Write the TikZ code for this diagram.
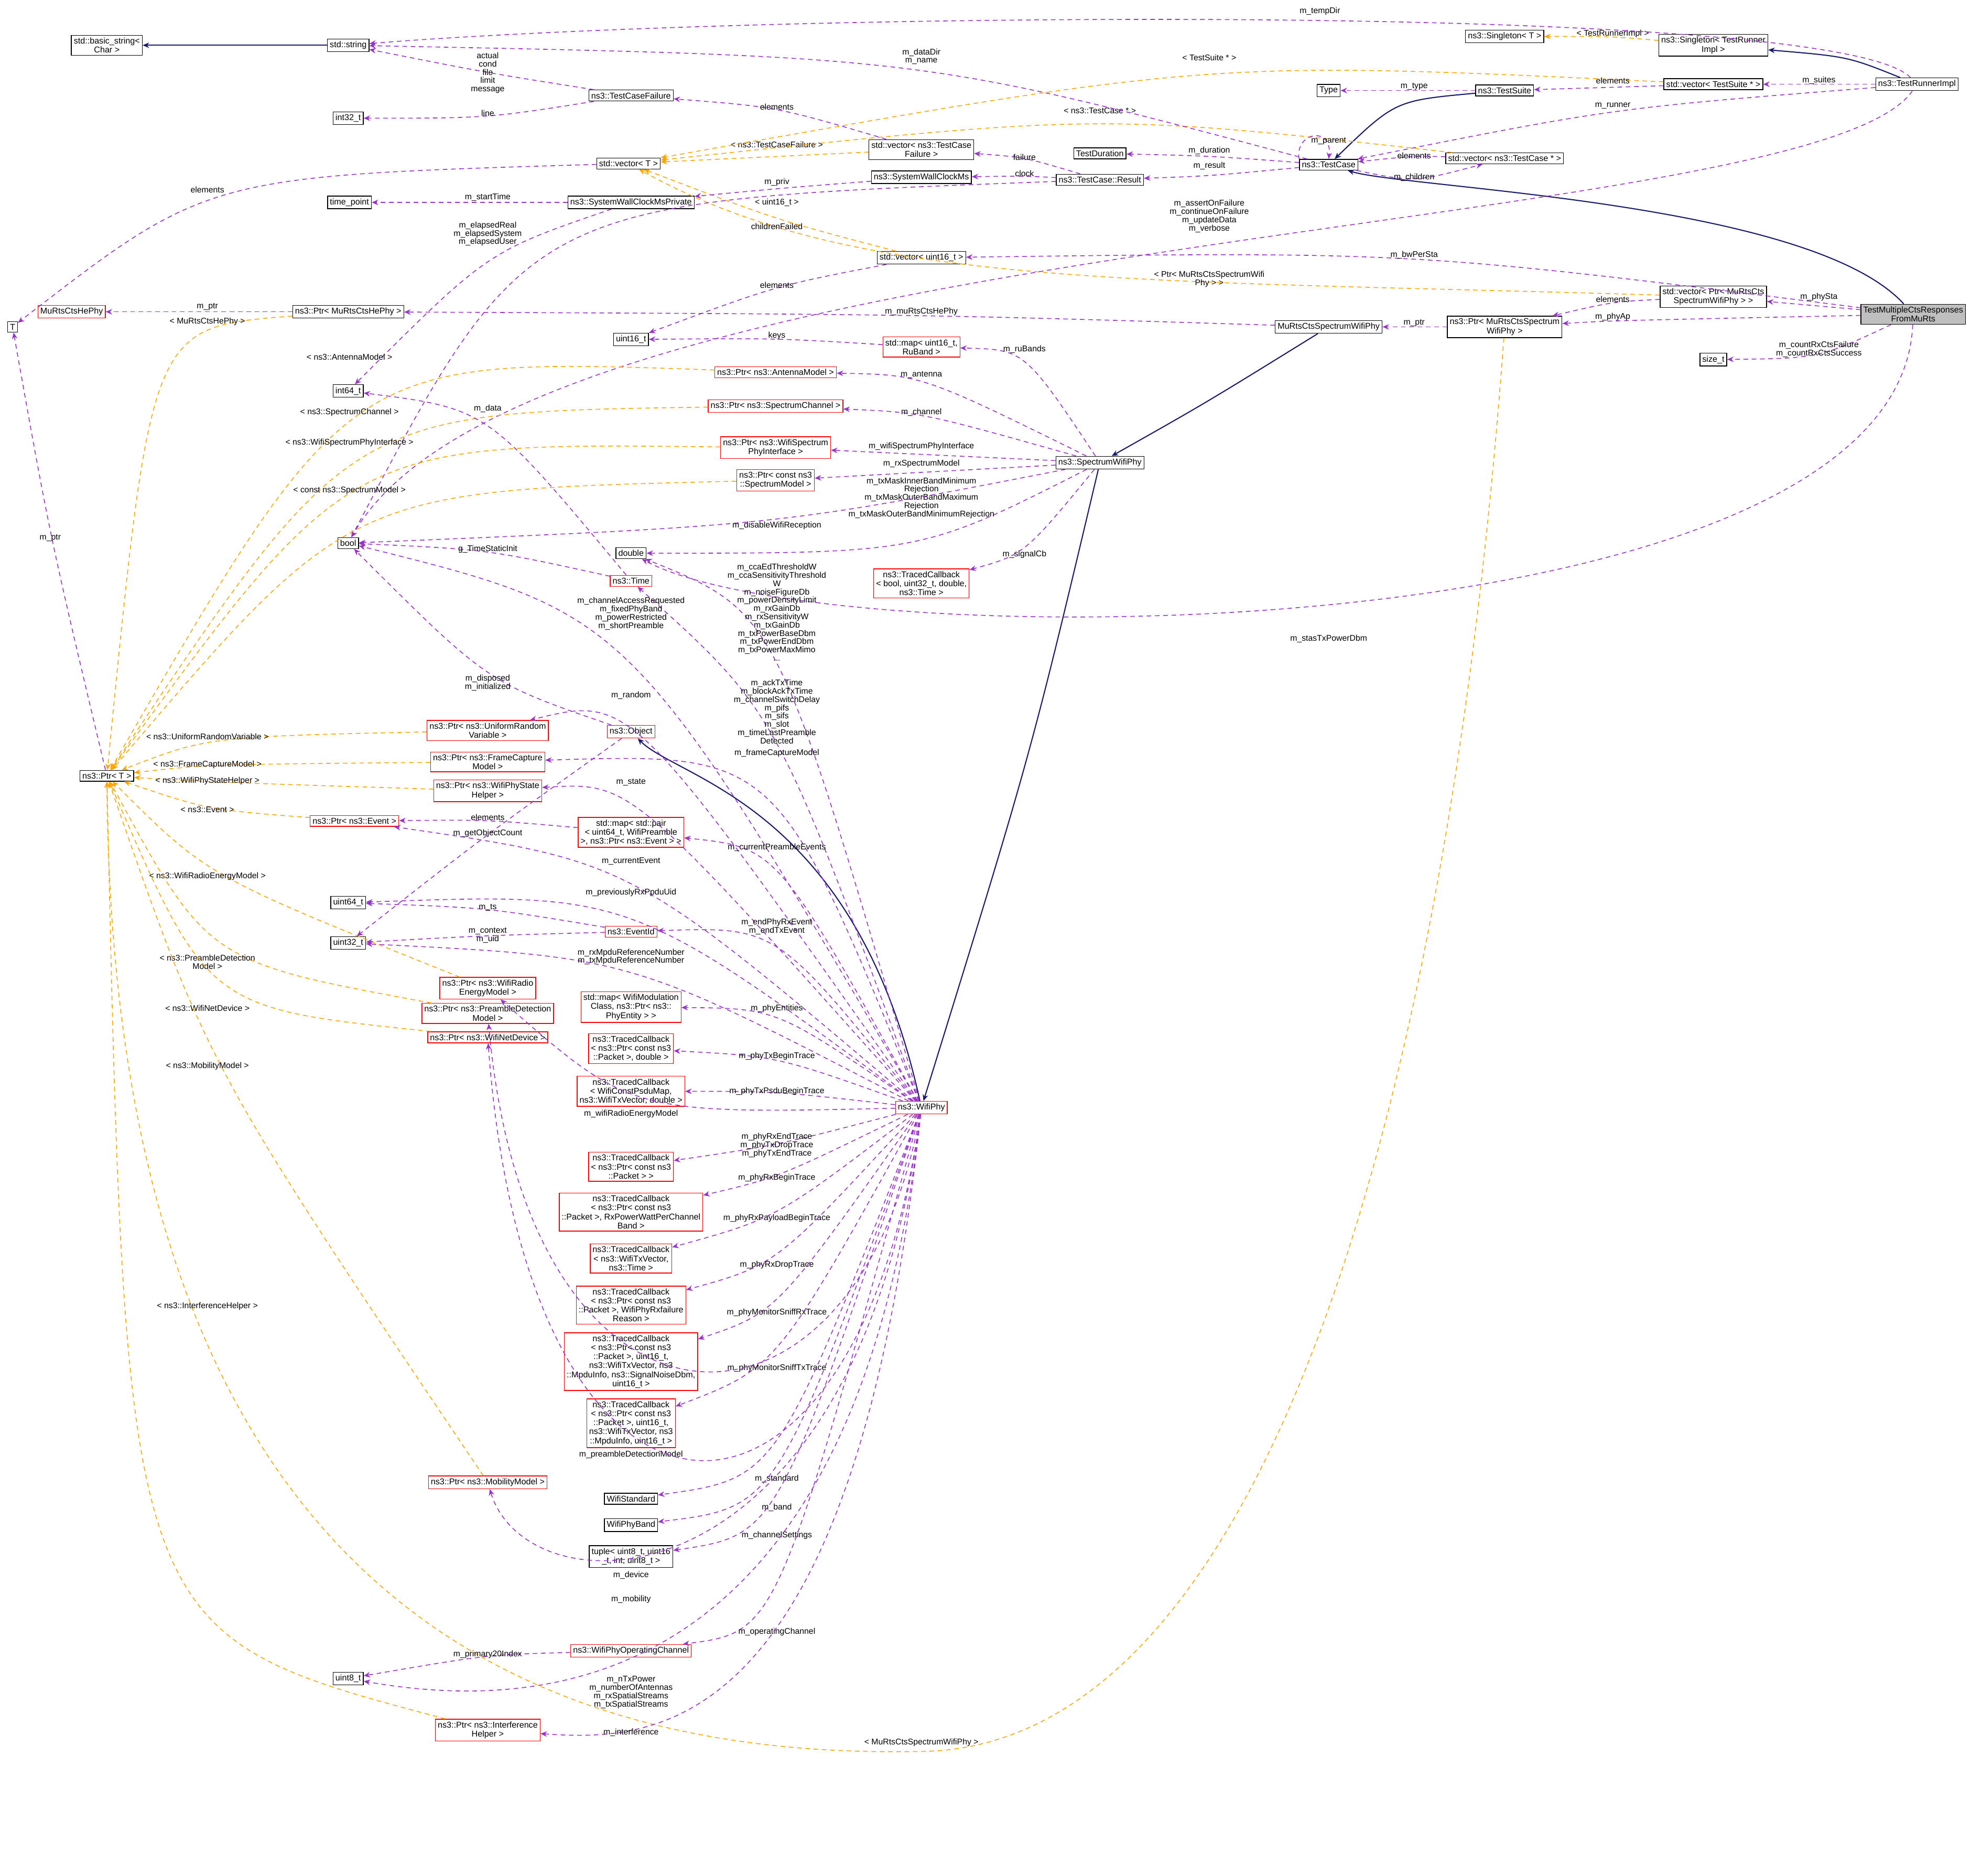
\documentclass[tikz,border=0pt]{standalone}
\usepackage{fontspec}
\setmainfont{Liberation Sans}
\usetikzlibrary{arrows.meta}
\definecolor{memcol}{HTML}{9A32CD}
\definecolor{tplcol}{HTML}{FFA500}
\definecolor{inhcol}{HTML}{191970}
\tikzset{
  cls/.style={draw=black,fill=white,inner sep=1.3pt,align=center,font=\fontsize{4.6}{4.9}\selectfont},
  rcls/.style={cls,draw=red},
  mem/.style={draw=memcol,dash pattern=on 2.5pt off 2pt,line width=.45pt,-{Stealth[length=3.5pt,width=3pt]}},
  tpl/.style={mem,draw=tplcol},
  inh/.style={draw=inhcol,line width=.6pt,-{Stealth[length=3.5pt,width=3pt,fill=inhcol]}},
  lbl/.style={align=center,inner sep=.5pt,font=\fontsize{4.5}{4.5}\selectfont}
}
\begin{document}
\begin{tikzpicture}[x=.024cm,y=-.024cm]
    \useasboundingbox (0,0) rectangle (1568,1492);

    %% left column
    \node[cls] (basicstr) at (85,36) {std::basic\_string\textless\\Char \textgreater};
    \node[cls] (stdstr) at (277,36) {std::string};
    \node[cls] (int32) at (277,94) {int32\_t};
    \node[cls] (timept) at (278,161) {time\_point};
    \node[cls] (tT) at (10,260) {T};
    \node[rcls] (murtshe) at (57,248) {MuRtsCtsHePhy};
    \node[cls] (ptrhe) at (277,248) {ns3::Ptr\textless{} MuRtsCtsHePhy \textgreater};
    \node[cls] (int64) at (277,311) {int64\_t};
    \node[cls] (bool) at (277,432) {bool};
    \node[cls] (ptrT) at (85,617) {ns3::Ptr\textless{} T \textgreater};
    \node[cls] (uint64) at (277,718) {uint64\_t};
    \node[cls] (uint32) at (277,750) {uint32\_t};
    \node[cls] (uint8) at (277,1335) {uint8\_t};

    %% middle column
    \node[cls] (tcfail) at (502,76) {ns3::TestCaseFailure};
    \node[cls] (vecT) at (500,130) {std::vector\textless{} T \textgreater};
    \node[cls] (swcmp) at (502,161) {ns3::SystemWallClockMsPrivate};
    \node[cls] (uint16) at (502,270) {uint16\_t};
    \node[cls] (double) at (502,440) {double};
    \node[rcls] (time) at (502,462) {ns3::Time};
    \node[rcls] (object) at (502,582) {ns3::Object};
    \node[rcls] (mappair) at (502,662) {std::map\textless{} std::pair\\\textless{} uint64\_t, WifiPreamble\\ \textgreater, ns3::Ptr\textless{} ns3::Event \textgreater{} \textgreater};
    \node[rcls] (eventid) at (502,741) {ns3::EventId};
    \node[rcls] (mapent) at (502,801) {std::map\textless{} WifiModulation\\Class, ns3::Ptr\textless{} ns3::\\PhyEntity \textgreater{} \textgreater};
    \node[rcls] (tctx) at (502,834) {ns3::TracedCallback\\\textless{} ns3::Ptr\textless{} const ns3\\::Packet \textgreater, double \textgreater};
    \node[rcls] (tcpsdu) at (502,868) {ns3::TracedCallback\\\textless{} WifiConstPsduMap,\\ ns3::WifiTxVector, double \textgreater};
    \node[rcls] (tcpkt) at (502,928) {ns3::TracedCallback\\\textless{} ns3::Ptr\textless{} const ns3\\::Packet \textgreater{} \textgreater};
    \node[rcls] (tcrxb) at (502,964) {ns3::TracedCallback\\\textless{} ns3::Ptr\textless{} const ns3\\::Packet \textgreater, RxPowerWattPerChannel\\Band \textgreater};
    \node[rcls] (tcvec) at (502,1001) {ns3::TracedCallback\\\textless{} ns3::WifiTxVector,\\ ns3::Time \textgreater};
    \node[rcls] (tcdrop) at (502,1038) {ns3::TracedCallback\\\textless{} ns3::Ptr\textless{} const ns3\\::Packet \textgreater, WifiPhyRxfailure\\Reason \textgreater};
    \node[rcls] (tcsrx) at (502,1083) {ns3::TracedCallback\\\textless{} ns3::Ptr\textless{} const ns3\\::Packet \textgreater, uint16\_t,\\ ns3::WifiTxVector, ns3\\::MpduInfo, ns3::SignalNoiseDbm,\\ uint16\_t \textgreater};
    \node[rcls] (tcstx) at (502,1132) {ns3::TracedCallback\\\textless{} ns3::Ptr\textless{} const ns3\\::Packet \textgreater, uint16\_t,\\ ns3::WifiTxVector, ns3\\::MpduInfo, uint16\_t \textgreater};
    \node[cls] (wstd) at (502,1192) {WifiStandard};
    \node[cls] (wband) at (502,1213) {WifiPhyBand};
    \node[cls] (tuple) at (502,1238) {tuple\textless{} uint8\_t, uint16\\\_t, int, uint8\_t \textgreater};
    \node[rcls] (opchan) at (502,1313) {ns3::WifiPhyOperatingChannel};

    %% Ptr column
    \node[rcls] (ptrant) at (617,296) {ns3::Ptr\textless{} ns3::AntennaModel \textgreater};
    \node[rcls] (ptrchan) at (617,323) {ns3::Ptr\textless{} ns3::SpectrumChannel \textgreater};
    \node[rcls] (ptrwspi) at (617,356) {ns3::Ptr\textless{} ns3::WifiSpectrum\\PhyInterface \textgreater};
    \node[rcls] (ptrsm) at (617,382) {ns3::Ptr\textless{} const ns3\\::SpectrumModel \textgreater};
    \node[rcls] (ptrurv) at (388,581) {ns3::Ptr\textless{} ns3::UniformRandom\\Variable \textgreater};
    \node[rcls] (ptrfcm) at (388,606) {ns3::Ptr\textless{} ns3::FrameCapture\\Model \textgreater};
    \node[rcls] (ptrpsh) at (388,629) {ns3::Ptr\textless{} ns3::WifiPhyState\\Helper \textgreater};
    \node[rcls] (ptrev) at (282,653) {ns3::Ptr\textless{} ns3::Event \textgreater};
    \node[rcls] (ptrwre) at (388,786) {ns3::Ptr\textless{} ns3::WifiRadio\\EnergyModel \textgreater};
    \node[rcls] (ptrpdm) at (388,806) {ns3::Ptr\textless{} ns3::PreambleDetection\\Model \textgreater};
    \node[rcls] (ptrdev) at (388,825) {ns3::Ptr\textless{} ns3::WifiNetDevice \textgreater};
    \node[rcls] (ptrmob) at (388,1179) {ns3::Ptr\textless{} ns3::MobilityModel \textgreater};
    \node[rcls] (ptrih) at (388,1376) {ns3::Ptr\textless{} ns3::Interference\\Helper \textgreater};

    %% right part
    \node[cls] (veccf) at (733,119) {std::vector\textless{} ns3::TestCase\\Failure \textgreater};
    \node[cls] (swcm) at (733,141) {ns3::SystemWallClockMs};
    \node[cls] (vecu16) at (733,205) {std::vector\textless{} uint16\_t \textgreater};
    \node[rcls] (mapru) at (733,276) {std::map\textless{} uint16\_t,\\ RuBand \textgreater};
    \node[rcls] (tcsig) at (733,464) {ns3::TracedCallback\\\textless{} bool, uint32\_t, double,\\ ns3::Time \textgreater};
    \node[rcls] (wifiphy) at (733,881) {ns3::WifiPhy};
    \node[cls] (tdur) at (875,122) {TestDuration};
    \node[cls] (result) at (875,143) {ns3::TestCase::Result};
    \node[cls] (specphy) at (875,368) {ns3::SpectrumWifiPhy};
    \node[cls] (type) at (1057,72) {Type};
    \node[cls] (testcase) at (1057,131) {ns3::TestCase};
    \node[cls] (murtsphy) at (1057,260) {MuRtsCtsSpectrumWifiPhy};
    \node[cls] (singT) at (1197,29) {ns3::Singleton\textless{} T \textgreater};
    \node[cls] (testsuite) at (1197,72) {ns3::TestSuite};
    \node[cls] (vectc) at (1197,126) {std::vector\textless{} ns3::TestCase * \textgreater};
    \node[cls] (ptrmuphy) at (1197,260) {ns3::Ptr\textless{} MuRtsCtsSpectrum\\WifiPhy \textgreater};
    \node[cls] (singtri) at (1363,36) {ns3::Singleton\textless{} TestRunner\\Impl \textgreater};
    \node[cls] (vects) at (1363,67) {std::vector\textless{} TestSuite * \textgreater};
    \node[cls] (vecmu) at (1363,236) {std::vector\textless{} Ptr\textless{} MuRtsCts\\SpectrumWifiPhy \textgreater{} \textgreater};
    \node[cls] (sizet) at (1363,286) {size\_t};
    \node[cls] (runner) at (1525,67) {ns3::TestRunnerImpl};
    \node[cls,fill=black!25] (test) at (1522,250) {TestMultipleCtsResponses\\FromMuRts};
    \coordinate (lowturn) at (733,1393);

    %% inheritance
    \draw[inh] (stdstr) -- (basicstr);
    \draw[inh] (testsuite) .. controls (1110,80) .. (testcase);
    \draw[inh] (runner) .. controls (1470,45) .. (singtri);
    \draw[inh] (test) .. controls (1440,160) and (1120,150) .. (testcase);
    \draw[inh] (murtsphy) .. controls (960,320) .. (specphy);
    \draw[inh] (specphy) .. controls (820,600) .. (wifiphy);
    \draw[inh] (wifiphy) .. controls (680,640) and (540,620) .. (object);

    %% test framework members
    \draw[mem] (tcfail) .. controls (388,58) .. (stdstr) node[lbl] at (388,58) {actual\\cond\\file\\limit\\message};
    \draw[mem] (tcfail) .. controls (388,94) .. (int32) node[lbl] at (388,90) {line};
    \draw[mem] (veccf) .. controls (618,85) .. (tcfail) node[lbl] at (618,85) {elements};
    \draw[tpl] (veccf) -- (vecT) node[lbl] at (618,115) {\textless{} ns3::TestCaseFailure \textgreater};
    \draw[tpl] (vectc) .. controls (875,90) .. (vecT) node[lbl] at (875,88) {\textless{} ns3::TestCase * \textgreater};
    \draw[tpl] (vects) .. controls (962,48) .. (vecT) node[lbl] at (962,46) {\textless{} TestSuite * \textgreater};
    \draw[tpl] (vecu16) .. controls (618,175) .. (vecT) node[lbl] at (618,161) {\textless{} uint16\_t \textgreater};
    \draw[tpl] (vecmu) .. controls (900,222) and (680,230) .. (vecT) node[lbl] at (962,222) {\textless{} Ptr\textless{} MuRtsCtsSpectrumWifi\\Phy \textgreater{} \textgreater};
    \draw[mem] (vecT) .. controls (165,140) .. (tT) node[lbl] at (165,151) {elements};
    \draw[mem] (swcmp) -- (timept) node[lbl] at (388,157) {m\_startTime};
    \draw[mem] (swcmp) .. controls (388,200) .. (int64) node[lbl] at (388,186) {m\_elapsedReal\\m\_elapsedSystem\\m\_elapsedUser};
    \draw[mem] (swcm) .. controls (618,150) .. (swcmp) node[lbl] at (618,145) {m\_priv};
    \draw[mem] (result) .. controls (815,140) .. (swcm) node[lbl] at (815,138) {clock};
    \draw[mem] (result) .. controls (815,125) .. (veccf) node[lbl] at (815,125) {failure};
    \draw[mem] (result) .. controls (420,160) .. (bool) node[lbl] at (618,180) {childrenFailed};
    \draw[mem] (testcase) .. controls (962,140) .. (result) node[lbl] at (962,132) {m\_result};
    \draw[mem] (testcase) .. controls (962,124) .. (tdur) node[lbl] at (962,120) {m\_duration};
    \draw[mem] (testcase.north west) .. controls (1030,105) and (1060,100) .. (testcase.north) node[lbl] at (1057,112) {m\_parent};
    \draw[mem] (testcase) .. controls (733,45) .. (stdstr) node[lbl] at (733,45) {m\_dataDir\\m\_name};
    \draw[mem] (testcase) .. controls (1125,145) .. (vectc) node[lbl] at (1125,141) {m\_children};
    \draw[mem] (vectc) .. controls (1125,124) .. (testcase) node[lbl] at (1125,124) {elements};
    \draw[mem] (testsuite) -- (type) node[lbl] at (1125,69) {m\_type};
    \draw[mem] (vects) -- (testsuite) node[lbl] at (1283,64) {elements};
    \draw[tpl] (singtri) .. controls (1283,29) .. (singT) node[lbl] at (1283,27) {\textless{} TestRunnerImpl \textgreater};
    \draw[mem] (runner) -- (vects) node[lbl] at (1447,64) {m\_suites};
    \draw[mem] (runner) .. controls (1283,86) .. (testcase) node[lbl] at (1283,84) {m\_runner};
    \draw[mem] (runner) .. controls (1460,0) and (600,10) .. (stdstr) node[lbl] at (1050,9) {m\_tempDir};
    \draw[mem] (runner) .. controls (1440,190) and (420,180) .. (bool) node[lbl] at (962,172) {m\_assertOnFailure\\m\_continueOnFailure\\m\_updateData\\m\_verbose};

    %% test members
    \draw[mem] (test) .. controls (1125,200) .. (vecu16) node[lbl] at (1125,203) {m\_bwPerSta};
    \draw[mem] (test) -- (vecmu) node[lbl] at (1447,236) {m\_phySta};
    \draw[mem] (test) .. controls (1283,255) .. (ptrmuphy) node[lbl] at (1283,252) {m\_phyAp};
    \draw[mem] (test) .. controls (1447,285) .. (sizet) node[lbl] at (1447,278) {m\_countRxCtsFailure\\m\_countRxCtsSuccess};
    \draw[mem] (test) .. controls (1510,520) and (660,525) .. (double) node[lbl] at (1057,508) {m\_stasTxPowerDbm};
    \draw[mem] (vecmu) .. controls (1283,240) .. (ptrmuphy) node[lbl] at (1283,238) {elements};
    \draw[mem] (ptrmuphy) -- (murtsphy) node[lbl] at (1125,257) {m\_ptr};
    \draw[tpl] (ptrmuphy) .. controls (1150,900) and (1000,1390) .. (lowturn) .. controls (400,1400) and (90,1250) .. (ptrT) node[lbl] at (733,1386) {\textless{} MuRtsCtsSpectrumWifiPhy \textgreater};
    \draw[mem] (murtsphy) .. controls (733,250) .. (ptrhe) node[lbl] at (733,248) {m\_muRtsCtsHePhy};
    \draw[mem] (ptrhe) -- (murtshe) node[lbl] at (165,244) {m\_ptr};
    \draw[tpl] (ptrhe) .. controls (120,260) .. (ptrT) node[lbl] at (165,256) {\textless{} MuRtsCtsHePhy \textgreater};

    %% spectrum phy members
    \draw[mem] (specphy) .. controls (815,278) .. (mapru) node[lbl] at (815,278) {m\_ruBands};
    \draw[mem] (mapru) .. controls (618,269) .. (uint16) node[lbl] at (618,267) {keys};
    \draw[mem] (vecu16) .. controls (618,227) .. (uint16) node[lbl] at (618,227) {elements};
    \draw[mem] (specphy) .. controls (733,298) .. (ptrant) node[lbl] at (733,298) {m\_antenna};
    \draw[mem] (specphy) .. controls (733,328) .. (ptrchan) node[lbl] at (733,328) {m\_channel};
    \draw[mem] (specphy) -- (ptrwspi) node[lbl] at (733,355) {m\_wifiSpectrumPhyInterface};
    \draw[mem] (specphy) -- (ptrsm) node[lbl] at (733,369) {m\_rxSpectrumModel};
    \draw[mem] (specphy) .. controls (733,440) .. (double) node[lbl] at (733,396) {m\_txMaskInnerBandMinimum\\Rejection\\m\_txMaskOuterBandMaximum\\Rejection\\m\_txMaskOuterBandMinimumRejection};
    \draw[mem] (specphy) .. controls (618,418) .. (bool) node[lbl] at (618,418) {m\_disableWifiReception};
    \draw[mem] (specphy) .. controls (815,441) .. (tcsig) node[lbl] at (815,441) {m\_signalCb};
    \draw[tpl] (ptrant) .. controls (278,284) .. (ptrT) node[lbl] at (278,284) {\textless{} ns3::AntennaModel \textgreater};
    \draw[tpl] (ptrchan) .. controls (278,328) .. (ptrT) node[lbl] at (278,328) {\textless{} ns3::SpectrumChannel \textgreater};
    \draw[tpl] (ptrwspi) .. controls (278,352) .. (ptrT) node[lbl] at (278,352) {\textless{} ns3::WifiSpectrumPhyInterface \textgreater};
    \draw[tpl] (ptrsm) .. controls (278,390) .. (ptrT) node[lbl] at (278,390) {\textless{} const ns3::SpectrumModel \textgreater};
    \draw[mem] (time) .. controls (388,325) .. (int64) node[lbl] at (388,325) {m\_data};
    \draw[mem] (time) .. controls (388,437) .. (bool) node[lbl] at (388,437) {g\_TimeStaticInit};
    \draw[mem] (ptrT) .. controls (40,428) .. (tT) node[lbl] at (40,428) {m\_ptr};

    %% Ptr< T > templates
    \draw[tpl] (ptrurv) .. controls (165,586) .. (ptrT) node[lbl] at (165,586) {\textless{} ns3::UniformRandomVariable \textgreater};
    \draw[tpl] (ptrfcm) .. controls (165,608) .. (ptrT) node[lbl] at (165,608) {\textless{} ns3::FrameCaptureModel \textgreater};
    \draw[tpl] (ptrpsh) .. controls (165,622) .. (ptrT) node[lbl] at (165,621) {\textless{} ns3::WifiPhyStateHelper \textgreater};
    \draw[tpl] (ptrev) .. controls (165,644) .. (ptrT) node[lbl] at (165,644) {\textless{} ns3::Event \textgreater};
    \draw[tpl] (ptrwre) .. controls (165,697) .. (ptrT) node[lbl] at (165,697) {\textless{} ns3::WifiRadioEnergyModel \textgreater};
    \draw[tpl] (ptrpdm) .. controls (165,765) .. (ptrT) node[lbl] at (165,765) {\textless{} ns3::PreambleDetection\\Model \textgreater};
    \draw[tpl] (ptrdev) .. controls (165,802) .. (ptrT) node[lbl] at (165,802) {\textless{} ns3::WifiNetDevice \textgreater};
    \draw[tpl] (ptrmob) .. controls (165,848) .. (ptrT) node[lbl] at (165,848) {\textless{} ns3::MobilityModel \textgreater};
    \draw[tpl] (ptrih) .. controls (100,1300) .. (ptrT) node[lbl] at (165,1039) {\textless{} ns3::InterferenceHelper \textgreater};
    \draw[mem] (object) .. controls (388,543) .. (bool) node[lbl] at (388,543) {m\_disposed\\m\_initialized};
    \draw[mem] (object) .. controls (388,663) .. (uint32) node[lbl] at (388,663) {m\_getObjectCount};
    \draw[mem] (mappair) .. controls (388,652) .. (ptrev) node[lbl] at (388,650) {elements};
    \draw[mem] (eventid) .. controls (388,722) .. (uint64) node[lbl] at (388,722) {m\_ts};
    \draw[mem] (eventid) .. controls (388,744) .. (uint32) node[lbl] at (388,744) {m\_context\\m\_uid};
    \draw[mem] (opchan) .. controls (388,1316) .. (uint8) node[lbl] at (388,1316) {m\_primary20Index};

    %% wifi phy members
    \draw[mem] (wifiphy) .. controls (618,487) .. (double) node[lbl] at (618,487) {m\_ccaEdThresholdW\\m\_ccaSensitivityThreshold\\W\\m\_noiseFigureDb\\m\_powerDensityLimit\\m\_rxGainDb\\m\_rxSensitivityW\\m\_txGainDb\\m\_txPowerBaseDbm\\m\_txPowerEndDbm\\m\_txPowerMaxMimo\\...};
    \draw[mem] (wifiphy) .. controls (618,566) .. (time) node[lbl] at (618,566) {m\_ackTxTime\\m\_blockAckTxTime\\m\_channelSwitchDelay\\m\_pifs\\m\_sifs\\m\_slot\\m\_timeLastPreamble\\Detected};
    \draw[mem] (wifiphy) .. controls (502,488) .. (bool) node[lbl] at (502,488) {m\_channelAccessRequested\\m\_fixedPhyBand\\m\_powerRestricted\\m\_shortPreamble};
    \draw[mem] (wifiphy) .. controls (502,553) .. (ptrurv) node[lbl] at (502,553) {m\_random};
    \draw[mem] (wifiphy) .. controls (618,599) .. (ptrfcm) node[lbl] at (618,599) {m\_frameCaptureModel};
    \draw[mem] (wifiphy) .. controls (502,622) .. (ptrpsh) node[lbl] at (502,622) {m\_state};
    \draw[mem] (wifiphy) .. controls (618,674) .. (mappair) node[lbl] at (618,674) {m\_currentPreambleEvents};
    \draw[mem] (wifiphy) .. controls (502,685) .. (ptrev) node[lbl] at (502,685) {m\_currentEvent};
    \draw[mem] (wifiphy) .. controls (502,710) .. (uint64) node[lbl] at (502,710) {m\_previouslyRxPpduUid};
    \draw[mem] (wifiphy) .. controls (618,737) .. (eventid) node[lbl] at (618,737) {m\_endPhyRxEvent\\m\_endTxEvent};
    \draw[mem] (wifiphy) .. controls (502,761) .. (uint32) node[lbl] at (502,761) {m\_rxMpduReferenceNumber\\m\_txMpduReferenceNumber};
    \draw[mem] (wifiphy) .. controls (618,802) .. (mapent) node[lbl] at (618,802) {m\_phyEntities};
    \draw[mem] (wifiphy) .. controls (618,840) .. (tctx) node[lbl] at (618,840) {m\_phyTxBeginTrace};
    \draw[mem] (wifiphy) .. controls (618,868) .. (tcpsdu) node[lbl] at (618,868) {m\_phyTxPsduBeginTrace};
    \draw[mem] (wifiphy) .. controls (618,911) .. (tcpkt) node[lbl] at (618,911) {m\_phyRxEndTrace\\m\_phyTxDropTrace\\m\_phyTxEndTrace};
    \draw[mem] (wifiphy) .. controls (618,937) .. (tcrxb) node[lbl] at (618,937) {m\_phyRxBeginTrace};
    \draw[mem] (wifiphy) .. controls (618,969) .. (tcvec) node[lbl] at (618,969) {m\_phyRxPayloadBeginTrace};
    \draw[mem] (wifiphy) .. controls (618,1006) .. (tcdrop) node[lbl] at (618,1006) {m\_phyRxDropTrace};
    \draw[mem] (wifiphy) .. controls (618,1044) .. (tcsrx) node[lbl] at (618,1044) {m\_phyMonitorSniffRxTrace};
    \draw[mem] (wifiphy) .. controls (618,1088) .. (tcstx) node[lbl] at (618,1088) {m\_phyMonitorSniffTxTrace};
    \draw[mem] (wifiphy) .. controls (680,1170) and (420,1170) .. (ptrpdm) node[lbl] at (502,1157) {m\_preambleDetectionModel};
    \draw[mem] (wifiphy) .. controls (502,886) .. (ptrwre) node[lbl] at (502,886) {m\_wifiRadioEnergyModel};
    \draw[mem] (wifiphy) .. controls (618,1176) .. (wstd) node[lbl] at (618,1176) {m\_standard};
    \draw[mem] (wifiphy) .. controls (618,1199) .. (wband) node[lbl] at (618,1199) {m\_band};
    \draw[mem] (wifiphy) .. controls (618,1221) .. (tuple) node[lbl] at (618,1221) {m\_channelSettings};
    \draw[mem] (wifiphy) .. controls (680,1262) and (420,1262) .. (ptrdev) node[lbl] at (502,1253) {m\_device};
    \draw[mem] (wifiphy) .. controls (680,1285) and (420,1285) .. (ptrmob) node[lbl] at (502,1272) {m\_mobility};
    \draw[mem] (wifiphy) .. controls (618,1298) .. (opchan) node[lbl] at (618,1298) {m\_operatingChannel};
    \draw[mem] (wifiphy) .. controls (680,1360) and (420,1360) .. (uint8) node[lbl] at (502,1346) {m\_nTxPower\\m\_numberOfAntennas\\m\_rxSpatialStreams\\m\_txSpatialStreams};
    \draw[mem] (wifiphy) .. controls (680,1385) and (520,1385) .. (ptrih) node[lbl] at (502,1378) {m\_interference};
\end{tikzpicture}
\end{document}
